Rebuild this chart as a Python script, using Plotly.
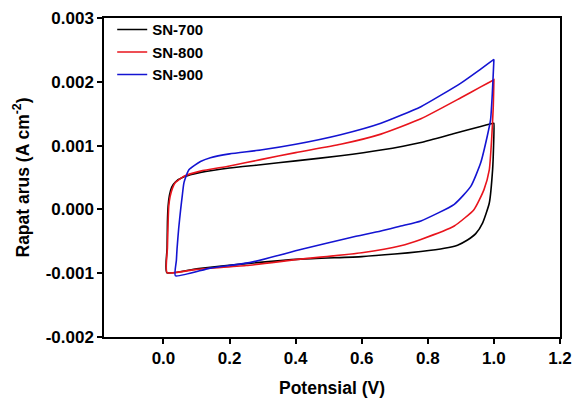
import numpy as np
import plotly.graph_objects as go

# ---- data (current density in mA cm^-2, potential in V) ----
sn700_x = [0.010, 0.011, 0.012, 0.014, 0.018, 0.025, 0.036, 0.062, 0.112, 0.200, 0.294, 0.400, 0.536, 0.658, 0.779, 0.880, 0.960, 0.999,
           1.000, 0.999, 0.996, 0.986, 0.966, 0.945, 0.920, 0.890, 0.850, 0.779, 0.700, 0.600, 0.415, 0.250, 0.100, 0.010]
sn700_y = [-0.99, -0.60, -0.20, 0.05, 0.22, 0.35, 0.43, 0.51, 0.58, 0.65, 0.70, 0.76, 0.84, 0.93, 1.05, 1.19, 1.30, 1.35,
           1.35, 1.00, 0.62, 0.10, -0.21, -0.38, -0.48, -0.56, -0.61, -0.66, -0.70, -0.74, -0.78, -0.85, -0.93, -0.99]

sn800_x = [0.011, 0.012, 0.014, 0.016, 0.020, 0.027, 0.036, 0.062, 0.112, 0.200, 0.294, 0.400, 0.536, 0.658, 0.779, 0.900, 0.960, 1.000,
           1.000, 0.998, 0.993, 0.986, 0.970, 0.940, 0.880, 0.779, 0.718, 0.600, 0.415, 0.250, 0.100, 0.011]
sn800_y = [-0.99, -0.60, -0.20, 0.05, 0.20, 0.33, 0.42, 0.52, 0.60, 0.68, 0.78, 0.89, 1.02, 1.18, 1.42, 1.75, 1.92, 2.03,
           2.03, 1.60, 1.09, 0.62, 0.31, 0.00, -0.26, -0.47, -0.57, -0.68, -0.78, -0.88, -0.94, -0.99]

sn900_x = [0.036, 0.039, 0.041, 0.046, 0.052, 0.057, 0.062, 0.077, 0.112, 0.142, 0.200, 0.294, 0.400, 0.536, 0.658, 0.779, 0.900, 0.960, 1.000,
           1.000, 0.995, 0.990, 0.980, 0.960, 0.930, 0.880, 0.779, 0.718, 0.658, 0.567, 0.415, 0.264, 0.142, 0.036]
sn900_y = [-1.04, -0.80, -0.62, -0.30, 0.00, 0.22, 0.42, 0.62, 0.75, 0.81, 0.87, 0.93, 1.02, 1.17, 1.35, 1.61, 1.98, 2.20, 2.35,
           2.35, 1.80, 1.41, 1.15, 0.73, 0.36, 0.08, -0.18, -0.26, -0.34, -0.44, -0.63, -0.83, -0.92, -1.04]

series_names = ["SN-700", "SN-800", "SN-900"]
series_colors = ["#000000", "#e8141c", "#1414d2"]

x_tickvals = [0.0, 0.2, 0.4, 0.6, 0.8, 1.0, 1.2]
x_ticktext = ["0.0", "0.2", "0.4", "0.6", "0.8", "1.0", "1.2"]
y_tickvals = [-0.002, -0.001, 0.0, 0.001, 0.002, 0.003]
y_ticktext = ["-0.002", "-0.001", "0.000", "0.001", "0.002", "0.003"]

FONT = "Liberation Sans, Arial, sans-serif"

fig = go.Figure()
for name, color, xs, ys in zip(series_names, series_colors,
                               [sn700_x, sn800_x, sn900_x],
                               [sn700_y, sn800_y, sn900_y]):
    fig.add_trace(go.Scatter(
        x=xs, y=np.array(ys) * 1e-3, mode="lines", name=name,
        line=dict(color=color, width=1.6, shape="spline", smoothing=0.5),
    ))

axis_common = dict(
    showline=True, linecolor="black", linewidth=1.5, mirror=True,
    ticks="outside", ticklen=5, tickwidth=1.5, tickcolor="black",
    showgrid=False, zeroline=False, automargin=False,
    tickfont=dict(family=FONT, size=17, color="black", weight="bold"),
)

fig.update_xaxes(
    range=[-0.18, 1.2], tickvals=x_tickvals, ticktext=x_ticktext,
    title=dict(text="Potensial (V)", font=dict(family=FONT, size=17.5, color="black", weight="bold"), standoff=15),
    **axis_common,
)
fig.update_yaxes(
    range=[-0.002, 0.003], tickvals=y_tickvals, ticktext=y_ticktext,
    title=dict(text="Rapat arus (A cm<sup>-2</sup>)", font=dict(family=FONT, size=17.5, color="black", weight="bold"), standoff=12),
    **axis_common,
)

fig.update_layout(
    width=574, height=401,
    margin=dict(l=104, r=14, t=18, b=64),
    paper_bgcolor="white", plot_bgcolor="white",
    showlegend=True,
    legend=dict(
        x=0.018, y=1.015, xanchor="left", yanchor="top",
        bgcolor="rgba(0,0,0,0)", itemwidth=30, tracegroupgap=0,
        font=dict(family=FONT, size=15, color="black", weight="bold"),
    ),
)

# remove the default 8px page margin so the 574x401 figure fills the window exactly
fig.write_html(
    "out.html",
    config={"displayModeBar": False},
    post_script="document.body.style.margin='0';document.body.style.overflow='hidden';"
                "document.documentElement.style.overflow='hidden';",
)
